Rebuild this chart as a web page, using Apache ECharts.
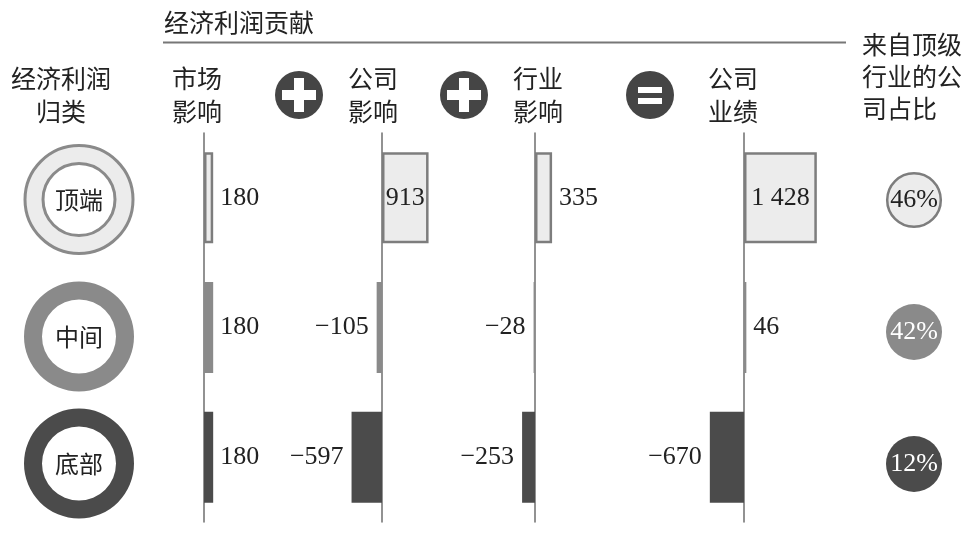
<!DOCTYPE html>
<html>
<head>
<meta charset="utf-8">
<script src="https://cdn.jsdelivr.net/npm/echarts@6/dist/echarts.min.js"></script>
<style>
html,body{margin:0;padding:0;background:#fff;}
#chart{width:969px;height:542px;}
</style>
</head>
<body>
<div id="chart"></div>
<script>
// ---- data ----
const categories = ['顶端', '中间', '底部'];
const marketImpact = [180, 180, 180];
const companyImpact = [913, -105, -597];
const industryImpact = [335, -28, -253];
const companyPerformance = [1428, 46, -670];
const topIndustryShare = [46, 42, 12];
const columnTitles = ['市场\n影响', '公司\n影响', '行业\n影响', '公司\n业绩'];
const headerTitle = '经济利润贡献';
const rowTitle = '经济利润\n归类';
const shareTitle = '来自顶级\n行业的公\n司占比';

// ---- styling / layout ----
const rowFill = ['#ececec', '#8a8a8a', '#4b4b4b'];
const borderGray = '#7d7d7d';
const textColor = '#222';
const cjk = '"Noto Sans CJK SC", sans-serif';
const serif = '"Liberation Serif", "Times New Roman", serif';
const zeroX = [204, 382, 535, 744];
const pxPerUnit = 0.051;
const range = 1500;
const ringY = [199.5, 336.5, 463.5];
const shareY = [200, 332, 464];

const columns = [marketImpact, companyImpact, industryImpact, companyPerformance];

function fmt(v) {
  const a = Math.abs(v).toString().replace(/\B(?=(\d{3})+(?!\d))/g, ' ');
  return (v < 0 ? '\u2212' : '') + a;
}

const grids = [], xAxes = [], yAxes = [], series = [];
columns.forEach((vals, j) => {
  grids.push({ left: zeroX[j] - range * pxPerUnit, width: 2 * range * pxPerUnit, top: 133, bottom: 20 });
  xAxes.push({ type: 'value', gridIndex: j, min: -range, max: range, show: false });
  yAxes.push({
    type: 'category', gridIndex: j, data: categories, inverse: true,
    axisLine: { show: true, onZero: true, lineStyle: { color: '#6e6e6e', width: 1.5 } },
    axisTick: { show: false }, axisLabel: { show: false }, splitLine: { show: false }
  });
  series.push({
    type: 'bar', xAxisIndex: j, yAxisIndex: j, barWidth: 91, silent: true,
    data: vals.map((v, i) => {
      const inside = Math.abs(v) * pxPerUnit > 40;
      return {
        value: v,
        itemStyle: i === 0
          ? { color: rowFill[i], borderColor: borderGray, borderWidth: 2.5 }
          : { color: rowFill[i] },
        label: {
          show: true,
          position: inside ? 'inside' : (v < 0 ? 'left' : 'right'),
          distance: v < 0 ? 8 : 7,
          formatter: () => fmt(v),
          color: textColor, fontFamily: serif, fontSize: 26
        }
      };
    })
  });
});

// left category rings
categories.forEach((c, i) => {
  series.push({
    type: 'pie', silent: true, center: [79, ringY[i]],
    radius: i === 0 ? [36, 54] : [37, 55],
    startAngle: 90,
    label: { show: true, position: 'center', formatter: '{b}', color: textColor, fontFamily: cjk, fontSize: 24 },
    labelLine: { show: false },
    itemStyle: i === 0 ? { color: rowFill[i], borderColor: '#8a8a8a', borderWidth: 3 } : { color: rowFill[i] },
    data: [{ value: 1, name: c }]
  });
});

// right share circles
topIndustryShare.forEach((s, i) => {
  series.push({
    type: 'pie', silent: true, center: [914, shareY[i]],
    radius: [0, i === 0 ? 26.8 : 28],
    label: { show: true, position: 'center', formatter: () => s + '%', color: i === 0 ? textColor : '#fff', fontFamily: serif, fontSize: 26 },
    labelLine: { show: false },
    itemStyle: i === 0 ? { color: rowFill[i], borderColor: borderGray, borderWidth: 2.5 } : { color: rowFill[i] },
    data: [{ value: s, name: categories[i] }]
  });
});

// header graphics
const graphics = [
  { type: 'text', left: 164, top: 10, style: { text: headerTitle, font: '25px ' + cjk, fill: textColor } },
  { type: 'line', shape: { x1: 163, y1: 42.5, x2: 846, y2: 42.5 }, style: { stroke: '#777', lineWidth: 2 } },
  { type: 'text', x: 61, y: 62, style: { text: rowTitle, font: '25px ' + cjk, fill: textColor, align: 'center', lineHeight: 33 } },
  { type: 'text', x: 862, y: 28, style: { text: shareTitle, font: '25px ' + cjk, fill: textColor, lineHeight: 32 } }
];
const titleX = [172, 348, 513, 708];
columnTitles.forEach((t, j) => {
  graphics.push({ type: 'text', x: titleX[j], y: 62, style: { text: t, font: '25px ' + cjk, fill: textColor, lineHeight: 33 } });
});
// operator icons
[[299, 95, '+'], [464, 95, '+'], [650, 95, '=']].forEach(([cx, cy, op]) => {
  graphics.push({ type: 'circle', shape: { cx, cy, r: 24 }, style: { fill: '#454545' } });
  if (op === '+') {
    graphics.push({ type: 'rect', shape: { x: cx - 17, y: cy - 5, width: 34, height: 10 }, style: { fill: '#fff' } });
    graphics.push({ type: 'rect', shape: { x: cx - 5, y: cy - 17, width: 10, height: 34 }, style: { fill: '#fff' } });
  } else {
    graphics.push({ type: 'rect', shape: { x: cx - 12, y: cy - 8, width: 24, height: 6 }, style: { fill: '#fff' } });
    graphics.push({ type: 'rect', shape: { x: cx - 12, y: cy + 3, width: 24, height: 6 }, style: { fill: '#fff' } });
  }
});

const chart = echarts.init(document.getElementById('chart'), null, { renderer: 'canvas' });
chart.setOption({
  backgroundColor: '#fff',
  animation: false,
  grid: grids,
  xAxis: xAxes,
  yAxis: yAxes,
  series: series,
  graphic: graphics
});
</script>
</body>
</html>
